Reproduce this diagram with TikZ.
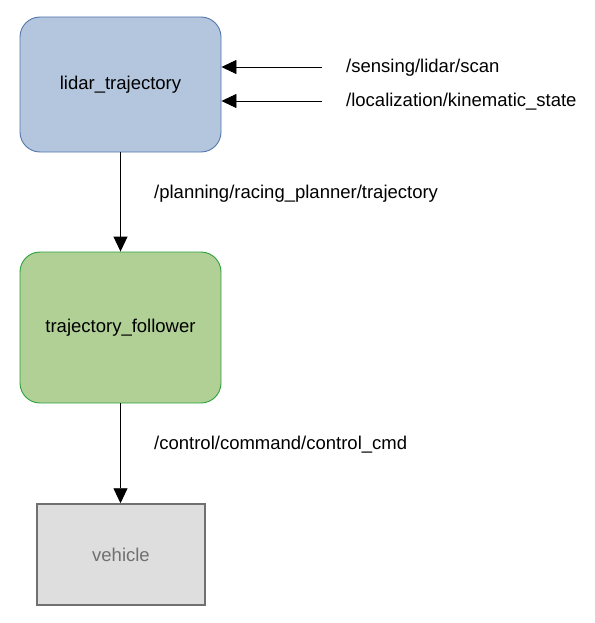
\documentclass[tikz,border=0pt]{standalone}
\usepackage{fontspec}
\setmainfont{Liberation Sans}
\usetikzlibrary{arrows.meta,positioning}

\definecolor{lidarfill}{RGB}{179,198,222}
\definecolor{lidardraw}{RGB}{84,118,172}
\definecolor{followfill}{RGB}{176,208,150}
\definecolor{followdraw}{RGB}{44,160,60}
\definecolor{vehfill}{RGB}{222,222,222}
\definecolor{vehdraw}{RGB}{112,112,112}

\begin{document}
\begin{tikzpicture}[x=1pt,y=-1pt,font=\fontsize{18.5}{22}\selectfont,
  node/.style={draw,rounded corners=20pt,minimum width=201pt,minimum height=135pt,align=center,line width=0.9pt},
  sink/.style={draw,minimum width=168pt,minimum height=101pt,line width=1.5pt},
  topic/.style={anchor=west,inner sep=0pt},
  arr/.style={-{Triangle[length=15pt,width=14pt]},line width=0.9pt}]
\useasboundingbox (0,0) rectangle (594,623);
\node[node,fill=lidarfill,draw=lidardraw] (lidar) at (120.5,84.5) {lidar\_trajectory};
\node[node,fill=followfill,draw=followdraw,minimum height=151pt] (follower) at (120.5,327.5) {trajectory\_follower};
\node[sink,fill=vehfill,draw=vehdraw,text=vehdraw] (vehicle) at (121,554.5) {vehicle};
% inputs
\coordinate (scan) at (322,67);
\coordinate (kin) at (322,101);
\node[topic] (scanlbl) at (346,67.5) {/sensing/lidar/scan};
\node[topic] (kinlbl) at (346,101.5) {/localization/kinematic\_state};
\draw[arr] (scan) -- (scan -| lidar.east);
\draw[arr] (kin) -- (kin -| lidar.east);
% outputs
\draw[arr] (lidar) -- (follower);
\node[topic] (traj) at (154,193.5) {/planning/racing\_planner/trajectory};
\draw[arr] (follower) -- (follower |- vehicle.north);
\node[topic] (cmd) at (154,444.5) {/control/command/control\_cmd};
\end{tikzpicture}
\end{document}
